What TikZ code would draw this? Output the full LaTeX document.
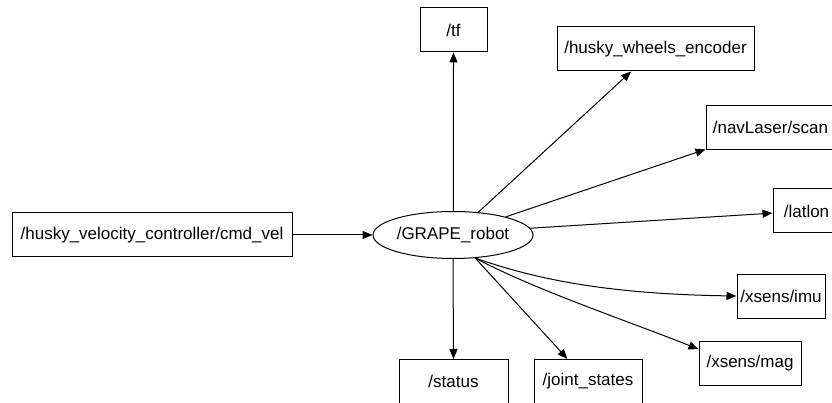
\documentclass[tikz,border=0pt]{standalone}
\usepackage{fontspec}
\setmainfont{Liberation Sans}
\usetikzlibrary{arrows.meta,shapes.geometric}
\begin{document}
\begin{tikzpicture}[x=1pt,y=-1pt,
  label font/.style={font=\fontsize{17}{20}\selectfont},
  topic/.style={draw, line width=1pt, rectangle, minimum height=44pt,
    inner sep=0pt, label font},
  robot/.style={draw, line width=1pt, ellipse, minimum width=160pt,
    minimum height=47pt, inner sep=0pt, label font},
  pub/.style={line width=1pt, -{Triangle[length=10pt,width=8pt]}}]
\useasboundingbox (0,0) rectangle (832,403);
\clip (0,0) rectangle (832,403);

% node in the middle
\node[robot] (g) at (453,235) {/GRAPE\_robot};

% topics
\node[topic, minimum width=280pt] (cmd)    at (152,235)     {/husky\_velocity\_controller/cmd\_vel};
\node[topic, minimum width=67pt]  (tf)     at (453.5,30)    {/tf};
\node[topic, minimum width=197pt] (wheels) at (655.5,49)    {/husky\_wheels\_encoder};
\node[topic, minimum width=129pt] (nav)    at (770.5,127.5) {/navLaser/scan};
\node[topic, minimum width=67pt]  (latlon) at (806.5,211)   {/latlon};
\node[topic, minimum width=88pt]  (imu)    at (781,296)     {/xsens/imu};
\node[topic, minimum width=102pt] (mag)    at (750,363)     {/xsens/mag};
\node[topic, minimum width=109pt] (status) at (453.5,381.5) {/status};
\node[topic, minimum width=108pt] (joint)  at (588,381.5)   {/joint\_states};

% subscriptions and publications
\draw[pub] (cmd.east) -- (g.west);
\draw[pub] (g.89) -- (tf.south);
\draw[pub] (g.42) -- (wheels);
\draw[pub] (g.19) -- (nav);
\draw[pub] (g.5) -- (latlon);
\draw[pub] (g.south) -- (status.north);
\draw[pub] (g.-46) -- (joint);
\draw[pub] (g.-46) .. controls +(60,21) and +(-130,-2) .. (imu.west);
\draw[pub] (g.-46) .. controls +(60,32) and +(-70,-28) .. (mag.165);
\end{tikzpicture}
\end{document}
